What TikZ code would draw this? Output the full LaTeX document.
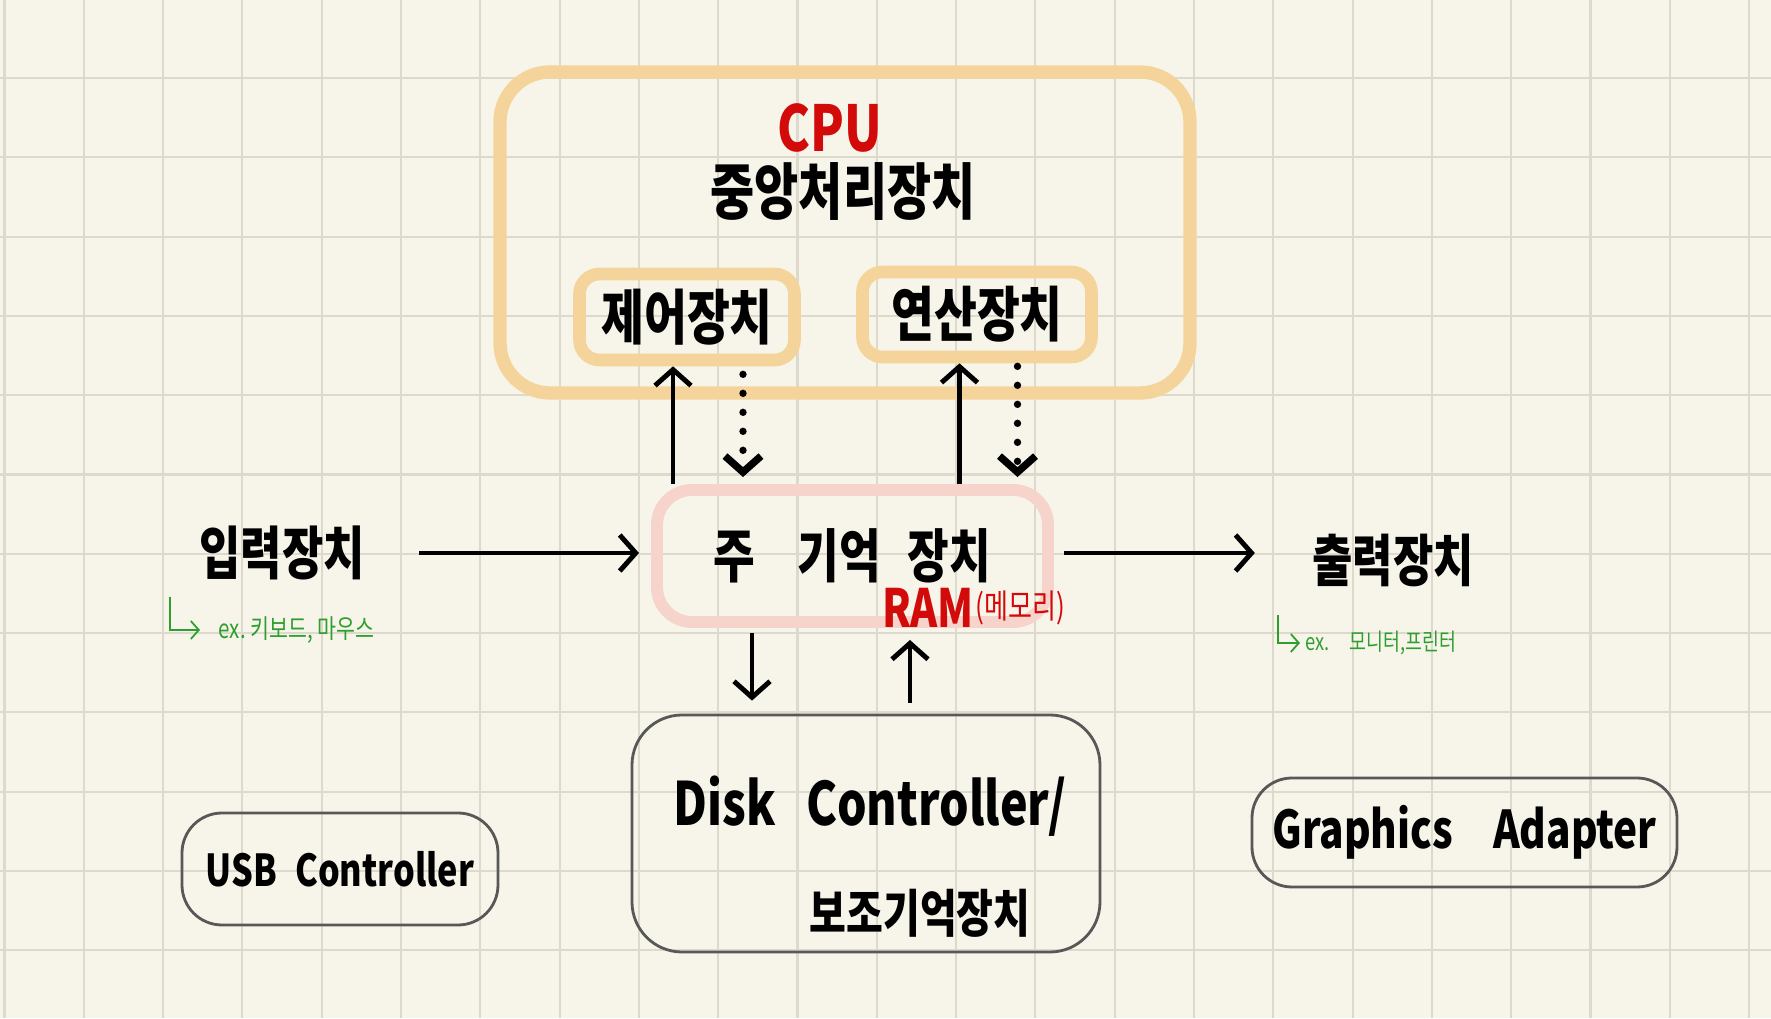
\documentclass[tikz,border=0pt]{standalone}
\usepackage{fontspec}
\setmainfont[FakeStretch=0.78]{Noto Sans CJK KR}
\usetikzlibrary{arrows.meta,positioning}

\definecolor{paper}{HTML}{F7F5E9}
\definecolor{gridgray}{HTML}{DDDACD}
\definecolor{cpuorange}{HTML}{F5D49B}
\definecolor{rampink}{HTML}{F6D4CB}
\definecolor{penred}{HTML}{D20A0A}
\definecolor{pengreen}{HTML}{2E9E2E}
\definecolor{pengray}{HTML}{585858}

\begin{document}
\begin{tikzpicture}[
  gridline/.style={gridgray,line width=0.6pt},
  unitbox/.style={draw=cpuorange,line width=3.6pt,rounded corners=2mm},
  membox/.style={draw=rampink,line width=3.4pt,rounded corners=3.5mm},
  devbox/.style={draw=pengray,line width=0.8pt,rounded corners=4mm},
  pen/.style={font=\bfseries\fontsize{#1}{#1}\selectfont},
  arr/.style={line width=1.4pt,-{Straight Barb[length=1.6mm,width=3.6mm]}},
  dotarr/.style={arr,line width=2.1pt,line cap=round,dash pattern=on 0pt off 1.9mm},
  note/.style={pengreen,anchor=west,inner sep=0pt,font=\fontsize{7.5}{8}\selectfont},
  hint/.style={pengreen,line width=0.5pt,-{Straight Barb[length=0.8mm,width=1.8mm]}}
]
\fill[paper] (0,0) rectangle (17.71,10.18);
\useasboundingbox (0,0) rectangle (17.71,10.18);
\foreach \i in {0,...,22} \draw[gridline] ({0.045+0.793*\i},0) -- ++(0,10.18);
\foreach \j in {0,...,11} \draw[gridline] (0,{9.40-0.793*\j}) -- ++(17.71,0);

\node[unitbox,line width=3.8pt,rounded corners=5mm,minimum width=6.9cm,minimum height=3.21cm] (cpu) at (8.45,7.855) {};
\node[penred,pen=18] (cpuen) at (8.30,8.90) {CPU};
\node[pen=17.5] (cpuko) at (8.43,8.27) {중앙처리장치};
\node[unitbox,minimum width=2.15cm,minimum height=0.86cm,pen=17] (ctrl) at (6.87,7.01) {제어장치};
\node[unitbox,minimum width=2.29cm,minimum height=0.85cm,pen=17] (alu) at (9.77,7.035) {연산장치};
\node[membox,minimum width=3.91cm,minimum height=1.32cm,pen=16.5] (mem) at (8.525,4.62) {주\hspace{4.2mm}기억\hspace{2.7mm}장치\hspace{2.5mm}};
\node[penred,pen=15] (ram) at (9.28,4.10) {RAM};
\node[penred,inner sep=1pt,font=\fontsize{9.5}{10}\selectfont,right=-1.5mm of ram] (ramko) {(메모리)};

\node[pen=16.4] (input) at (2.82,4.65) {입력장치};
\node[pen=16] (output) at (13.93,4.58) {출력장치};
\node[note] (inex) at (2.18,3.88) {ex.\ 키보드,\ 마우스};
\node[note,font=\fontsize{6.7}{8}\selectfont] (outex) at (13.05,3.75) {ex.\hspace{2mm}모니터,프린터};
\coordinate (inhook) at (1.70,4.21);
\coordinate (outhook) at (12.78,4.03);

\node[devbox,rounded corners=5mm,minimum width=4.68cm,minimum height=2.37cm] (disk) at (8.66,1.845) {};
\node[pen=17] (diskname) at (8.70,2.12) {Disk\hspace{3mm}Controller/};
\node[pen=14.6] (diskko) at (9.20,1.05) {보조기억장치};
\node[devbox,minimum width=3.16cm,minimum height=1.12cm,pen=12.5] (usb) at (3.40,1.49) {USB\hspace{1mm} Controller};
\node[devbox,minimum width=4.25cm,minimum height=1.09cm,pen=14.8] (gfx) at (14.645,1.855) {Graphics\hspace{4mm}Adapter};

\coordinate (ctrlup) at ([xshift=-1.4mm]ctrl.south);
\coordinate (ctrldn) at ([xshift=5.6mm]ctrl.south);
\coordinate (aluup) at ([xshift=-1.75mm]alu.south);
\coordinate (aludn) at ([xshift=4.05mm]alu.south);
\coordinate (diskdn) at ([xshift=-11.4mm]disk.north);
\coordinate (diskup) at ([xshift=4.4mm]disk.north);

\draw[arr] (ctrlup |- mem.north) -- (ctrlup);
\draw[dotarr,shorten <=0.8mm,shorten >=0.7mm] (ctrldn) -- (ctrldn |- mem.north);
\draw[arr] (aluup |- mem.north) -- (aluup);
\draw[dotarr,shorten <=0.3mm,shorten >=0.7mm] (aludn) -- (aludn |- mem.north);
\draw[arr,shorten <=0.5mm,shorten >=1.3mm] (diskdn |- mem.south) -- (diskdn);
\draw[arr,shorten <=1.1mm,shorten >=1.2mm] (diskup) -- (diskup |- mem.south);
\draw[arr,shorten <=4.2mm,shorten >=1.2mm] (input.east) -- (input.east -| mem.west);
\draw[arr,shorten <=1mm,shorten >=4.5mm] (input.east -| mem.east) -- (input.east -| output.west);
\draw[hint,shorten >=1.8mm] (inhook) |- (inex.west);
\draw[hint,shorten >=0.5mm] (outhook) |- (outex.west);
\end{tikzpicture}
\end{document}
